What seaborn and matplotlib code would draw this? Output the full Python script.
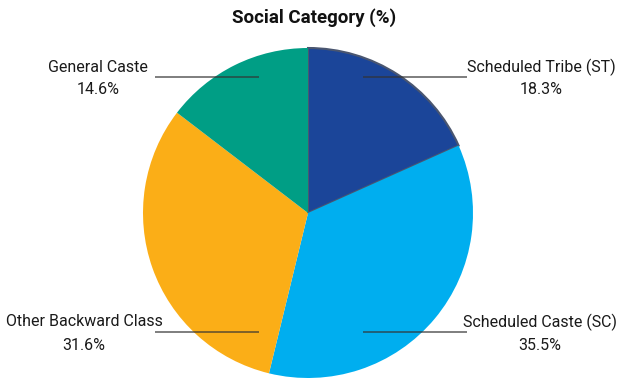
import matplotlib
matplotlib.use("Agg")
import matplotlib.pyplot as plt
import seaborn as sns

categories = ["Scheduled Tribe (ST)", "Scheduled Caste (SC)", "Other Backward Class", "General Caste"]
shares = [18.3, 35.5, 31.6, 14.6]
colors = ["#1B4599", "#00AEEF", "#FBAE17", "#009E85"]
title = "Social Category (%)"

sns.set_theme(style="white")
plt.rcParams["font.family"] = ["Roboto", "DejaVu Sans"]

W, H = 619, 378
fig = plt.figure(figsize=(W / 100, H / 100), dpi=100)
ax = fig.add_axes([0, 0, 1, 1])

cx, cy, r = 308, H - 213, 165
wedges, _ = ax.pie(shares, colors=colors, startangle=90, counterclock=False,
                   center=(cx, cy), radius=r, frame=True,
                   wedgeprops=dict(linewidth=0))
wedges[0].set_edgecolor("#4A5670")
wedges[0].set_linewidth(1.5)
ax.set_xlim(0, W)
ax.set_ylim(0, H)
ax.set_aspect("equal")
ax.axis("off")

# leader lines and labels: (line x0, line x1, line y, text x)
label_pos = [
    (363, 467, H - 77, 541),
    (363, 467, H - 332, 540),
    (155, 259, H - 332, 84),
    (155, 259, H - 77, 98),
]
for name, val, (x0, x1, ly, tx) in zip(categories, shares, label_pos):
    ax.plot([x0, x1], [ly, ly], color="#333333", lw=1.1, alpha=0.8, solid_capstyle="butt")
    ax.text(tx, ly + 10, name, ha="center", va="center", fontsize=11.5, color="#1a1a1a")
    ax.text(tx, ly - 13, f"{val}%", ha="center", va="center", fontsize=11.5, color="#1a1a1a")

fig.text(314 / W, 1 - 18 / H, title, ha="center", va="center", fontsize=13.5,
         fontweight="bold", color="#111111")

fig.savefig("out.png", dpi=100, facecolor="white")
